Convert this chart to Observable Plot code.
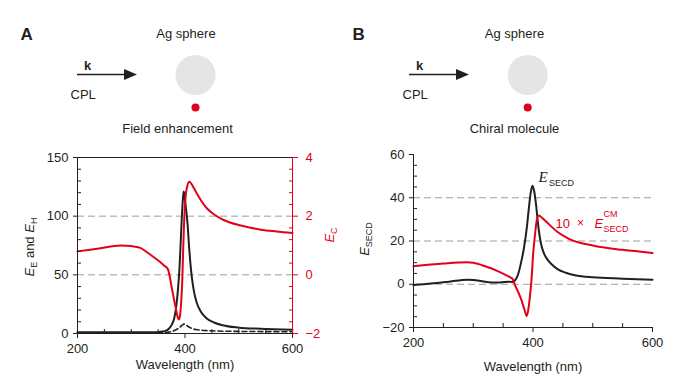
<!DOCTYPE html>
<html><head><meta charset="utf-8">
<script src="https://cdn.jsdelivr.net/npm/d3@7"></script>
<script src="https://cdn.jsdelivr.net/npm/@observablehq/plot@0.6"></script>
<style>
body{margin:0;background:#fff;}
#wrap{position:relative;width:691px;height:384px;overflow:hidden;font-family:"Liberation Sans",Arial,sans-serif;background:#fff;}
#wrap svg{position:absolute;top:0;}
</style></head><body><div id="wrap"></div>
<script>
const BLACK="#231f20", RED="#e2001a", GRID="#9d9d9d", SPHERE="#e5e5e5";
const FONT='"Liberation Sans", Arial, sans-serif';

// ---------- shared x axis ----------
const xDomain=[200,600];
const xTicksMajor=[200,400,600];
const xTicksMinor=[250,300,350,450,500,550];

// ---------- Panel A data ----------
const aYMajor=[0,50,100,150];
const aYMinor=[10,20,30,40,60,70,80,90,110,120,130,140];
const aGrid=[50,100];
const aECMajor=[-2,0,2,4];
const aECMinor=[-1.6,-1.2,-0.8,-0.4,0.4,0.8,1.2,1.6,2.4,2.8,3.2,3.6];
// E_E (solid black)
const aWlEE=[200,250,300,340,352,362,370,376,380,384,387,390,392,394,396,397.5,399,401,403,405,407,410,413,417,422,429,440,454,470,500,540,600];
const aEE  =[1,1,1,1,1.3,2,4,8,13,24,38,58,78,98,114,121,118,110,102,92,78,60,47,35,26,19,13,9.4,7,5,4,3.3];
// E_H (dashed black)
const aWlEH=[200,300,340,360,370,380,388,394,398,402,406,412,420,435,460,500,550,600];
const aEH  =[0.5,0.5,0.6,0.8,1.2,2.5,4.5,6.8,8,7.3,6,4.5,3.4,2.6,2.1,1.8,1.6,1.5];
// E_C (red, right axis)
const aWlEC=[200,240,280,300,317,330,342,352,361,368,371,374,377,380,383,386.5,389,391,393,395,396.5,398,401,404,408,412,417,425,441,455,473,504,541,570,600];
const aEC  =[0.8,0.9,1.0,0.98,0.92,0.76,0.6,0.46,0.32,0.2,0,-0.3,-0.6,-0.88,-1.15,-1.45,-1.52,-1.35,-0.9,-0.15,0.8,1.63,2.65,3.0,3.17,3.1,2.94,2.68,2.26,2.05,1.86,1.68,1.54,1.48,1.43];

// ---------- Panel B data ----------
const bYMajor=[-20,0,20,40,60];
const bYMinor=[-15,-10,-5,5,10,15,25,30,35,45,50,55];
const bGrid=[0,20,40];
// E_SECD (black)
const bWlS=[200,230,260,290,300,315,330,345,360,366,370,375,380,385,390,393,396,399,402,405,408,411,414,418,424,432,441,455,470,500,550,600];
const bS  =[-0.4,0.3,1.2,2.1,2.0,1.4,0.8,0.8,1.2,1.0,1.8,4.5,10,17,27,35,42,45.5,43,37,29,22.5,18,14.5,11.5,9,7,5.3,4.2,3.2,2.6,2.1];
// 10 x E_SECD^CM (red)
const bWlCM=[200,250,290,300,320,340,355,362,366,370,375,380,386,389.5,392,395,398,400,403,406,409.5,413,420,440,460,500,550,600];
const bCM  =[8.3,9.6,10.2,9.9,8.3,6.2,4.2,3.2,2.4,-0.5,-3.5,-6.8,-12,-14.7,-12,-5.3,4,13.3,22,29,31.8,31.2,29.5,24.4,21,17.9,15.9,14.5];

const rows=(w,v)=>w.map((x,i)=>({x,y:v[i]}));
const fmt=d3.format("d");
const ecToLeft=v=>(v+2)*25;   // right axis E_C (-2..4) onto left scale (0..150)
const plotStyle={fontFamily:FONT,fontSize:"13px",color:BLACK,background:"transparent"};

const plotA=Plot.plot({
  width:345,height:384,marginLeft:77,marginRight:53,marginTop:157,marginBottom:51,
  style:plotStyle,
  x:{domain:xDomain,label:null},
  y:{domain:[0,150],label:null},
  marks:[
    Plot.ruleY(aGrid,{stroke:GRID,strokeWidth:1,strokeDasharray:"7,4"}),
    Plot.line(rows(aWlEH,aEH),{x:"x",y:"y",stroke:BLACK,strokeWidth:1.6,strokeDasharray:"5,3",curve:"monotone-x"}),
    Plot.line(rows(aWlEE,aEE),{x:"x",y:"y",stroke:BLACK,strokeWidth:2,curve:"monotone-x"}),
    Plot.line(rows(aWlEC,aEC),{x:"x",y:d=>ecToLeft(d.y),stroke:RED,strokeWidth:2,curve:"monotone-x"}),
    Plot.ruleY([150],{stroke:BLACK}),
    Plot.ruleY([0],{stroke:BLACK}),
    Plot.ruleX([200],{stroke:BLACK}),
    Plot.ruleX([600],{stroke:RED}),
    Plot.axisY({anchor:"left",ticks:aYMajor,tickSize:4,tickPadding:5,tickFormat:fmt,label:null,color:BLACK}),
    Plot.axisY({anchor:"left",ticks:aYMinor,tickSize:4,dx:4,fill:"none",stroke:BLACK,label:null}),
    Plot.axisY({anchor:"right",ticks:aECMajor.map(ecToLeft),tickSize:5,tickPadding:8,tickFormat:d=>fmt(d/25-2),label:null,color:RED}),
    Plot.axisY({anchor:"right",ticks:aECMinor.map(ecToLeft),tickSize:4,dx:-4,fill:"none",stroke:RED,label:null}),
    Plot.axisX({ticks:xTicksMajor,tickSize:5,tickPadding:5,tickFormat:fmt,label:null,color:BLACK}),
    Plot.axisX({ticks:xTicksMinor,tickSize:4,dy:-4,fill:"none",stroke:BLACK,label:null})
  ]
});
plotA.style.left="0px";

const plotB=Plot.plot({
  width:346,height:384,marginLeft:68,marginRight:39,marginTop:154,marginBottom:57,
  style:plotStyle,
  x:{domain:xDomain,label:null},
  y:{domain:[-20,60],label:null},
  marks:[
    Plot.ruleY(bGrid,{stroke:GRID,strokeWidth:1,strokeDasharray:"7,4"}),
    Plot.line(rows(bWlS,bS),{x:"x",y:"y",stroke:BLACK,strokeWidth:2,curve:"monotone-x"}),
    Plot.line(rows(bWlCM,bCM),{x:"x",y:"y",stroke:RED,strokeWidth:2,curve:"monotone-x"}),
    Plot.ruleY([-20],{stroke:BLACK}),
    Plot.ruleX([200],{stroke:BLACK}),
    Plot.axisY({anchor:"left",ticks:bYMajor,tickSize:4,tickPadding:5,tickFormat:fmt,label:null,color:BLACK}),
    Plot.axisY({anchor:"left",ticks:bYMinor,tickSize:4,dx:4,fill:"none",stroke:BLACK,label:null}),
    Plot.axisX({ticks:xTicksMajor,tickSize:5,tickPadding:5,tickFormat:fmt,label:null,color:BLACK}),
    Plot.axisX({ticks:xTicksMinor,tickSize:4,dy:-4,fill:"none",stroke:BLACK,label:null})
  ]
});
plotB.style.left="345px";

const wrap=document.getElementById("wrap");
wrap.appendChild(plotA);
wrap.appendChild(plotB);

// ---------- overlay: schematics and rich-text labels ----------
const ov=d3.select("#wrap").append("svg").attr("width",691).attr("height",384)
  .style("left","0px").style("pointer-events","none")
  .attr("font-family",FONT).attr("fill",BLACK);

function t(x,y,s,o={}){const e=ov.append("text").attr("x",x).attr("y",y).text(s);for(const k in o)e.attr(k,o[k]);return e;}

function schematic(dx,letter,caption,capX,agX,cx){
  t(dx+20.5,40,letter,{"font-size":17,"font-weight":"bold"});
  t(agX,38,"Ag sphere",{"font-size":13,"text-anchor":"middle"});
  ov.append("circle").attr("cx",cx).attr("cy",75).attr("r",20).attr("fill",SPHERE);
  ov.append("circle").attr("cx",cx).attr("cy",107.5).attr("r",4).attr("fill",RED);
  const ax=dx;
  ov.append("line").attr("x1",ax+77).attr("x2",ax+126).attr("y1",74.5).attr("y2",74.5).attr("stroke",BLACK).attr("stroke-width",1.6);
  ov.append("path").attr("d",`M${ax+124},69 L${ax+137},74.5 L${ax+124},80 Z`).attr("fill",BLACK);
  t(ax+84,70,"k",{"font-size":13,"font-weight":"bold"});
  t(ax+70.5,99,"CPL",{"font-size":13});
  t(capX,133,caption,{"font-size":13,"text-anchor":"middle"});
}
schematic(0,"A","Field enhancement",177.5,186,195.5);
schematic(332,"B","Chiral molecule",514.5,514.5,527.7);

// axis titles
t(185,369,"Wavelength (nm)",{"font-size":13,"text-anchor":"middle"});
t(533,371,"Wavelength (nm)",{"font-size":13,"text-anchor":"middle"});

function rich(x,y,parts,o={}){
  const e=ov.append("text").attr("transform",`translate(${x},${y}) rotate(-90)`).attr("text-anchor","middle").attr("font-size",13);
  for(const k in o)e.attr(k,o[k]);
  for(const p of parts){const s=e.append("tspan").text(p.s);
    if(p.i)s.attr("font-style","italic");
    if(p.sub){s.attr("font-size",9).attr("dy",3);} if(p.up)s.attr("dy",-3);}
  return e;
}
rich(34,247,[{s:"E",i:1},{s:"E",sub:1},{s:" and ",up:1},{s:"E",i:1},{s:"H",sub:1}]);
rich(334,235,[{s:"E",i:1},{s:"C",sub:1}],{fill:RED});
rich(369,239,[{s:"E",i:1},{s:"SECD",sub:1}]);

// in-plot annotations (panel B)
t(538.5,182,"E",{"font-size":15,"font-style":"italic","font-family":'"Liberation Serif","DejaVu Serif",serif'});
t(549,185.5,"SECD",{"font-size":9});
t(555.5,227.5,"10",{"font-size":13,fill:RED});
t(577,227,"×",{"font-size":12,fill:RED});
t(594.5,227.5,"E",{"font-size":13,"font-style":"italic",fill:RED});
t(603.5,217,"CM",{"font-size":9,fill:RED});
t(603.5,232,"SECD",{"font-size":9,fill:RED});
</script></body></html>
